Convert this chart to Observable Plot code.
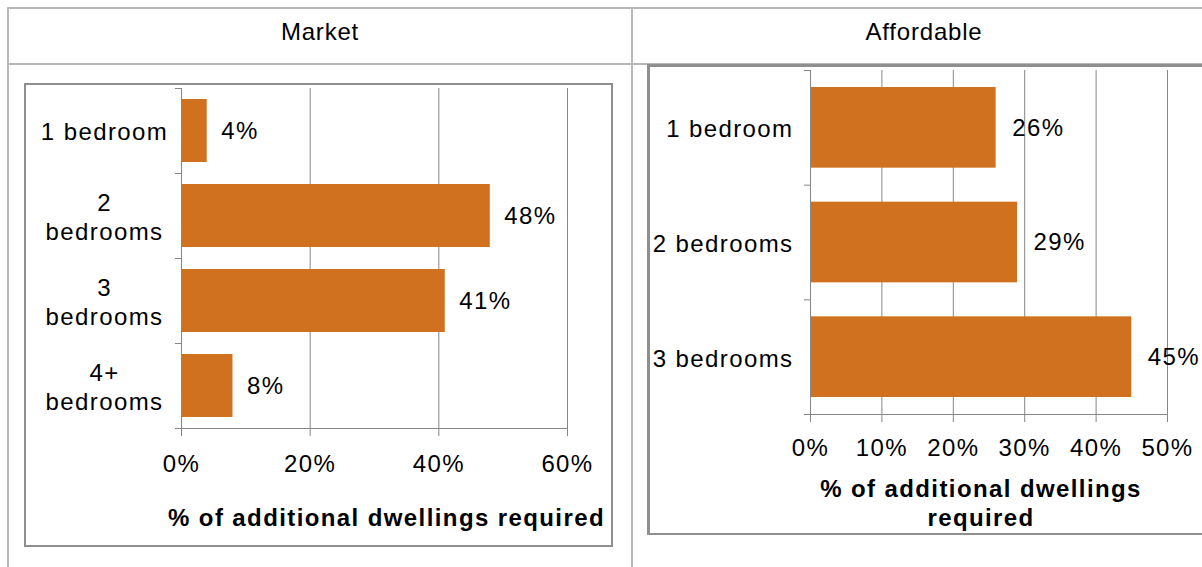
<!DOCTYPE html>
<html>
<head>
<meta charset="utf-8">
<script src="https://cdn.jsdelivr.net/npm/d3@7"></script>
<script src="https://cdn.jsdelivr.net/npm/@observablehq/plot@0.6"></script>
<style>
  html, body { margin: 0; padding: 0; background: #fff; }
  #root { position: relative; width: 1202px; height: 567px; overflow: hidden; background: #fff;
          font-family: "Liberation Sans", Arial, sans-serif; color: #000; }
  .line { position: absolute; background: #b8b8b8; }
  .box { position: absolute; border: 2px solid #8f8f8f; box-sizing: border-box; }
  .hdr { position: absolute; top: 18px; font-size: 24px; text-align: center; width: 300px; letter-spacing: 0.8px; }
  .plot { position: absolute; }
</style>
</head>
<body>
<div id="root">
  <div class="line" style="left:7px; top:7px; width:1195px; height:2px;"></div>
  <div class="line" style="left:7px; top:7px; width:2px; height:560px;"></div>
  <div class="line" style="left:631px; top:7px; width:2px; height:560px;"></div>
  <div class="line" style="left:7px; top:63px; width:1195px; height:2px;"></div>
  <div class="hdr" style="left:170px;">Market</div>
  <div class="hdr" style="left:774px;">Affordable</div>
  <div class="box" style="left:24px; top:83px; width:589px; height:464px;"></div>
  <div class="box" style="left:647px; top:64px; width:600px; height:471px; border-width:3px 2px 2px 3px;"></div>
  <div id="left" class="plot" style="left:25px; top:84px;"></div>
  <div id="right" class="plot" style="left:648px; top:66px;"></div>
</div>
<script>
// ---- data ----
const marketCategories = ["1 bedroom", "2 bedrooms", "3 bedrooms", "4+ bedrooms"];
const marketLabels = ["1 bedroom", "2\nbedrooms", "3\nbedrooms", "4+\nbedrooms"];
const marketValues = [0.04, 0.48, 0.41, 0.08];
const marketTicks = [0, 0.2, 0.4, 0.6];

const affordableCategories = ["1 bedroom", "2 bedrooms", "3 bedrooms"];
const affordableLabels = ["1 bedroom", "2 bedrooms", "3 bedrooms"];
const affordableValues = [0.26, 0.29, 0.45];
const affordableTicks = [0, 0.1, 0.2, 0.3, 0.4, 0.5];

const axisTitle = "% of additional dwellings required";
const axisTitleWrapped = "% of additional dwellings\nrequired";

const barColor = "#d07120";
const gridColor = "#878787";
const FONT = "Liberation Sans, Arial, sans-serif";
const pct = d3.format(".0%");

function panel({categories, labels, values, ticks, width, height, margins, inset, labelAnchor, labelPadding, tickPad, title, titleDx, titleDy, valueDx}) {
  const n = categories.length;
  const data = categories.map((c, i) => ({category: c, label: labels[i], value: values[i], i}));
  return Plot.plot({
    width, height,
    marginLeft: margins[0], marginRight: margins[1], marginTop: margins[2], marginBottom: margins[3],
    style: {fontFamily: FONT, fontSize: "24px", letterSpacing: "1.4px", background: "transparent", overflow: "visible"},
    x: {domain: [ticks[0], ticks[ticks.length - 1]]},
    y: {domain: [0, n], reverse: true},
    marks: [
      Plot.gridX({ticks: ticks.slice(1), stroke: gridColor, strokeOpacity: 1, strokeWidth: 1}),
      Plot.rectX(data, {x: "value", y1: "i", y2: d => d.i + 1, insetTop: inset, insetBottom: inset, fill: barColor}),
      Plot.ruleX([ticks[0]], {stroke: gridColor, strokeWidth: 1}),
      Plot.ruleY([n], {stroke: gridColor, strokeWidth: 1}),
      Plot.axisY({ticks: d3.range(n + 1), tickSize: 6, tickFormat: () => "", label: null, stroke: gridColor, strokeOpacity: 1}),
      Plot.axisY({ticks: d3.range(n).map(i => i + 0.5), tickSize: 0, tickPadding: labelPadding, label: null,
        tickFormat: v => labels[Math.floor(v)], textAnchor: labelAnchor, fontSize: 24, lineHeight: 1.22, fill: "#000"}),
      Plot.axisX({ticks, tickSize: 8, tickPadding: tickPad, tickFormat: pct, stroke: gridColor, strokeOpacity: 1,
        fontSize: 24, fill: "#000", label: null}),
      Plot.text(data, {x: "value", y: d => d.i + 0.5, text: d => pct(d.value), dx: valueDx, textAnchor: "start",
        fontSize: 24, fill: "#000"}),
      Plot.text([title], {frameAnchor: "bottom", lineAnchor: "middle", dx: titleDx, dy: titleDy, fontWeight: "bold", fontSize: 24,
        lineHeight: 1.2, fill: "#000"})
    ]
  });
}

document.getElementById("left").append(panel({
  categories: marketCategories, labels: marketLabels, values: marketValues, ticks: marketTicks,
  width: 587, height: 462, margins: [156, 45, 4, 118], inset: 11,
  labelAnchor: "middle", labelPadding: 77, tickPad: 18,
  title: axisTitle, titleDx: 12, titleDy: 88, valueDx: 14
}));

document.getElementById("right").append(panel({
  categories: affordableCategories, labels: affordableLabels, values: affordableValues, ticks: affordableTicks,
  width: 554, height: 468, margins: [162, 35, 4, 120], inset: 17,
  labelAnchor: "end", labelPadding: 17, tickPad: 16,
  title: axisTitleWrapped, titleDx: -8, titleDy: 88, valueDx: 16
}));
</script>
</body>
</html>
